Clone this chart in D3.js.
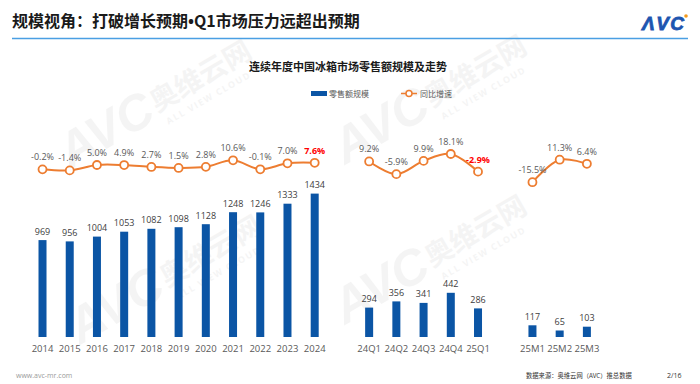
<!DOCTYPE html>
<html>
<head>
<meta charset="utf-8">
<script src="https://cdn.jsdelivr.net/npm/d3@7"></script>
<style>
  body { margin: 0; background: #fff; }
  svg { display: block; font-family: "Open Sans", "Noto Sans CJK SC", sans-serif; }
</style>
</head>
<body>
<div id="chart"></div>
<script>
// annual
var years = ["2014","2015","2016","2017","2018","2019","2020","2021","2022","2023","2024"];
var yearSales = [969, 956, 1004, 1053, 1082, 1098, 1128, 1248, 1246, 1333, 1434];
var yearYoy = [-0.2, -1.4, 5.0, 4.9, 2.7, 1.5, 2.8, 10.6, -0.1, 7.0, 7.6];
// quarterly
var quarters = ["24Q1","24Q2","24Q3","24Q4","25Q1"];
var quarterSales = [294, 356, 341, 442, 286];
var quarterYoy = [9.2, -5.9, 9.9, 18.1, -2.9];
// monthly
var months = ["25M1","25M2","25M3"];
var monthSales = [117, 65, 103];
var monthYoy = [-15.5, 11.3, 6.4];

var redLabels = ["2024", "25Q1"];

var W = 700, H = 384;
var svg = d3.select("#chart").append("svg")
    .attr("width", W)
    .attr("height", H);

// watermarks
var marks = [[70, 170], [345, 165], [345, 325], [80, 345]];
marks.forEach(function(p) {
    var g = svg.append("g")
        .attr("transform", "translate(" + p[0] + "," + p[1] + ") rotate(-30)")
        .attr("fill", "#000")
        .attr("opacity", 0.04);
    g.append("text").text("AVC")
        .attr("x", 0).attr("y", 0)
        .style("font-size", "50px").style("font-weight", 900).style("font-style", "italic")
        .style("font-family", "Arial, 'Liberation Sans', sans-serif");
    g.append("text").text("奥维云网")
        .attr("x", 104).attr("y", -6)
        .style("font-size", "28px").style("font-weight", 700)
        .style("font-family", "'Noto Sans CJK SC', sans-serif");
    g.append("text").text("ALL VIEW CLOUD")
        .attr("x", 108).attr("y", 10)
        .style("font-size", "9px").style("font-weight", 700)
        .style("letter-spacing", "1.5px");
});

// header
var head = svg.append("text")
    .attr("x", 12).attr("y", 27)
    .style("font-family", "'Noto Sans CJK SC', sans-serif")
    .style("font-size", "16px").style("font-weight", 700)
    .attr("fill", "#1a1a1a");
head.append("tspan").text("规模视角：打破增长预期");
head.append("tspan").text("•").style("font-family", "'Open Sans', sans-serif");
head.append("tspan").text("Q1市场压力远超出预期");

svg.append("line")
    .attr("x1", 12).attr("x2", 688)
    .attr("y1", 38.5).attr("y2", 38.5)
    .attr("stroke", "#4a9fe3").attr("stroke-width", 1.5);

svg.append("text")
    .attr("x", 642).attr("y", 30)
    .text("ΛVC")
    .style("font-family", "Arial, 'Liberation Sans', sans-serif")
    .style("font-size", "19px").style("font-weight", 900).style("font-style", "italic")
    .attr("textLength", 42)
    .attr("stroke", "#1d55b0").attr("stroke-width", 0.8)
    .attr("fill", "#1d55b0");
svg.append("circle")
    .attr("cx", 686).attr("cy", 16).attr("r", 1.8)
    .attr("fill", "#f39a1e");

// chart title
svg.append("text")
    .attr("x", 348).attr("y", 71)
    .attr("text-anchor", "middle")
    .text("连续年度中国冰箱市场零售额规模及走势")
    .style("font-family", "'Noto Sans CJK SC', sans-serif")
    .style("font-size", "11px").style("font-weight", 700)
    .attr("fill", "#1a1a1a");

// legend
var legend = svg.append("g").style("font-family", "'Noto Sans CJK SC', sans-serif")
    .style("font-size", "8px").attr("fill", "#595959");
legend.append("rect").attr("x", 311).attr("y", 91).attr("width", 16).attr("height", 5).attr("fill", "#0b55a5");
legend.append("text").attr("x", 329).attr("y", 96.5).text("零售额规模");
legend.append("line").attr("x1", 401).attr("x2", 417).attr("y1", 93.5).attr("y2", 93.5)
    .attr("stroke", "#ed7d31").attr("stroke-width", 1.5);
legend.append("circle").attr("cx", 409).attr("cy", 93.5).attr("r", 3)
    .attr("fill", "#fff").attr("stroke", "#ed7d31").attr("stroke-width", 1.5);
legend.append("text").attr("x", 420).attr("y", 96.5).attr("fill", "#595959").text("同比增速");

// build rows with blank slots between groups
var rows = [];
years.forEach(function(c, i) { rows.push({cat: c, sales: yearSales[i], yoy: yearYoy[i]}); });
rows.push({cat: "gap1", sales: null, yoy: null});
quarters.forEach(function(c, i) { rows.push({cat: c, sales: quarterSales[i], yoy: quarterYoy[i]}); });
rows.push({cat: "gap2", sales: null, yoy: null});
months.forEach(function(c, i) { rows.push({cat: c, sales: monthSales[i], yoy: monthYoy[i]}); });

var x = d3.scaleBand()
    .domain(rows.map(function(d) { return d.cat; }))
    .range([28.9, 600.5])
    .paddingInner(0.7)
    .paddingOuter(0.35);

var ySales = d3.scaleLinear().domain([0, 1500]).range([337, 187]);
var yYoy = d3.scaleLinear().domain([-20, 30]).range([186, 144]);

var cx = function(d) { return x(d.cat) + x.bandwidth() / 2; };
var real = rows.filter(function(d) { return d.sales !== null; });

// bars
svg.append("g").selectAll("rect")
    .data(real)
    .enter().append("rect")
    .attr("x", function(d) { return cx(d) - 4; })
    .attr("width", 8)
    .attr("y", function(d) { return ySales(d.sales); })
    .attr("height", function(d) { return ySales(0) - ySales(d.sales); })
    .attr("fill", "#0b55a5");

svg.append("g").selectAll("text")
    .data(real)
    .enter().append("text")
    .attr("x", cx)
    .attr("y", function(d) { return ySales(d.sales) - 5.5; })
    .attr("text-anchor", "middle")
    .style("font-size", "9px")
    .attr("fill", "#404040")
    .text(function(d) { return d.sales; });

// x axis labels
var xAxis = d3.axisBottom(x)
    .tickSize(0)
    .tickPadding(0)
    .tickFormat(function(d) { return d.indexOf("gap") === 0 ? "" : d; });
var ax = svg.append("g")
    .attr("transform", "translate(0,345)")
    .call(xAxis);
ax.select(".domain").remove();
ax.selectAll("text")
    .style("font-size", "9.5px")
    .style("font-family", "'Open Sans', sans-serif")
    .attr("fill", "#595959");

// yoy lines
var line = d3.line()
    .defined(function(d) { return d.yoy !== null; })
    .x(cx)
    .y(function(d) { return yYoy(d.yoy); })
    .curve(d3.curveCatmullRom.alpha(0.5));

svg.append("path")
    .datum(rows)
    .attr("d", line)
    .attr("fill", "none")
    .attr("stroke", "#ed7d31")
    .attr("stroke-width", 2);

svg.append("g").selectAll("circle")
    .data(real)
    .enter().append("circle")
    .attr("cx", cx)
    .attr("cy", function(d) { return yYoy(d.yoy); })
    .attr("r", 4)
    .attr("fill", "#fff")
    .attr("stroke", "#ed7d31")
    .attr("stroke-width", 1.8);

svg.append("g").selectAll("text")
    .data(real)
    .enter().append("text")
    .attr("x", cx)
    .attr("y", function(d) { return yYoy(d.yoy) - 9; })
    .attr("text-anchor", "middle")
    .style("font-size", "9px")
    .style("font-weight", function(d) { return redLabels.indexOf(d.cat) >= 0 ? 700 : 400; })
    .attr("fill", function(d) { return redLabels.indexOf(d.cat) >= 0 ? "#ff0000" : "#595959"; })
    .text(function(d) { return d.yoy.toFixed(1) + "%"; });

// footer
svg.append("text").attr("x", 16).attr("y", 378)
    .text("www.avc-mr.com")
    .style("font-size", "7px").attr("fill", "#9a9a9a");
svg.append("text").attr("x", 526).attr("y", 378)
    .text("数据来源：奥维云网（AVC）推总数据")
    .style("font-family", "'Noto Sans CJK SC', sans-serif")
    .style("font-size", "6.3px").attr("fill", "#333");
svg.append("text").attr("x", 667).attr("y", 378)
    .text("2/16")
    .style("font-size", "7px").attr("fill", "#333");
</script>
</body>
</html>
